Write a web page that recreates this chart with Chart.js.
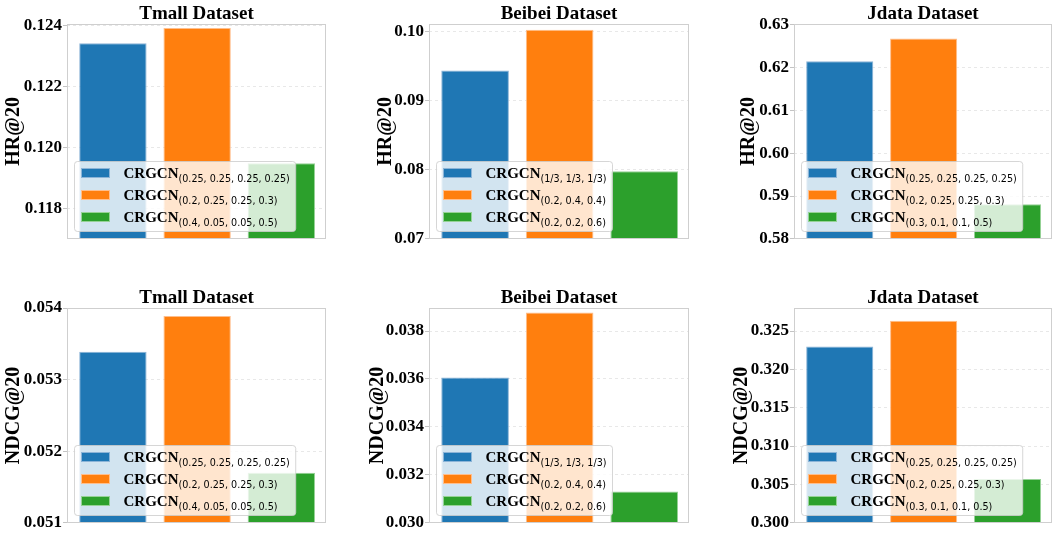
<!DOCTYPE html>
<html><head><meta charset="utf-8">
<script src="https://cdn.jsdelivr.net/npm/chart.js@4.4.0/dist/chart.umd.min.js"></script>
<style>
html,body{margin:0;padding:0;background:#fff;}
#wrap{position:relative;width:1058px;height:534px;overflow:hidden;background:#fff;}
canvas{position:absolute;}
</style></head><body><div id="wrap"></div>
<script>
// ---------- data ----------
const datasetNames = ['Tmall Dataset', 'Beibei Dataset', 'Jdata Dataset'];
const metricNames = ['HR@20', 'NDCG@20'];
const seriesColors = ['#1f77b4', '#ff7f0e', '#2ca02c'];
const seriesEdge = ['rgba(140,180,215,1)', 'rgba(255,190,140,1)', 'rgba(150,210,150,1)'];
const modelName = 'CRGCN';
const tmallWeights = ['(0.25, 0.25, 0.25, 0.25)', '(0.2, 0.25, 0.25, 0.3)', '(0.4, 0.05, 0.05, 0.5)'];
const beibeiWeights = ['(1/3, 1/3, 1/3)', '(0.2, 0.4, 0.4)', '(0.2, 0.2, 0.6)'];
const jdataWeights = ['(0.25, 0.25, 0.25, 0.25)', '(0.2, 0.25, 0.25, 0.3)', '(0.3, 0.1, 0.1, 0.5)'];

const tmallHR = [0.12341, 0.12391, 0.11948];
const beibeiHR = [0.09434, 0.10024, 0.07977];
const jdataHR = [0.6215, 0.6268, 0.5881];
const tmallNDCG = [0.05339, 0.05389, 0.0517];
const beibeiNDCG = [0.03606, 0.03877, 0.03131];
const jdataNDCG = [0.32298, 0.32633, 0.30571];

// y-axis ranges / tick steps / label decimals
const tmallHRAxis = [0.117, 0.12404, 0.002, 3];
const beibeiHRAxis = [0.07, 0.10106, 0.01, 2];
const jdataHRAxis = [0.58, 0.6302, 0.01, 2];
const tmallNDCGAxis = [0.051, 0.054, 0.001, 3];
const beibeiNDCGAxis = [0.030, 0.03896, 0.002, 3];
const jdataNDCGAxis = [0.300, 0.328, 0.005, 3];

// ---------- layout ----------
const colLeft = [0, 350, 700];
const colWidth = [350, 350, 358];
const plotLeft = [67, 429, 794];
const plotRight = [326, 689, 1052];
const rowTop = [0, 284];
const rowPadBottom = [8, 9];
const canvasH = 250;
const yTitlePad = [[2, 24, 37], [1.5, 16, 30]];

const panels = [
  [0, 0, tmallHR, tmallHRAxis, tmallWeights],
  [0, 1, beibeiHR, beibeiHRAxis, beibeiWeights],
  [0, 2, jdataHR, jdataHRAxis, jdataWeights],
  [1, 0, tmallNDCG, tmallNDCGAxis, tmallWeights],
  [1, 1, beibeiNDCG, beibeiNDCGAxis, beibeiWeights],
  [1, 2, jdataNDCG, jdataNDCGAxis, jdataWeights]
];

const serif = '"Liberation Serif", "Times New Roman", serif';

const frameAndLegend = {
  id: 'frameAndLegend',
  afterDatasetsDraw(chart, args, opts) {
    const ctx = chart.ctx, a = chart.chartArea;
    ctx.save();
    // frame
    ctx.strokeStyle = '#cfcfcf';
    ctx.lineWidth = 1;
    ctx.strokeRect(Math.round(a.left) + 0.5, Math.round(a.top) + 0.5,
      Math.round(a.right - a.left) - 1, Math.round(a.bottom - a.top) - 1);
    // legend
    const mainFont = 'bold 15px ' + serif;
    const subFont = '9.6px "DejaVu Sans", sans-serif';
    ctx.font = mainFont;
    const mainW = ctx.measureText(modelName).width;
    ctx.font = subFont;
    let subW = 0;
    opts.weights.forEach(w => { subW = Math.max(subW, ctx.measureText(w).width); });
    const bw = 7 + 29 + 13 + mainW + subW + 6;
    const bh = 70;
    const bx = Math.round(a.left) + 7.5, by = Math.round(a.bottom) - 7.5 - bh;
    ctx.beginPath();
    ctx.roundRect(bx, by, bw, bh, 3);
    ctx.fillStyle = 'rgba(255,255,255,0.8)';
    ctx.fill();
    ctx.strokeStyle = 'rgba(204,204,204,0.8)';
    ctx.stroke();
    opts.weights.forEach((w, i) => {
      const cy = Math.round(by + 11.5 + 22 * i);
      ctx.fillStyle = seriesEdge[i];
      ctx.fillRect(bx + 6.5, cy - 5, 29, 10);
      ctx.fillStyle = seriesColors[i];
      ctx.fillRect(bx + 7.5, cy - 4, 27, 8);
      ctx.fillStyle = '#000';
      ctx.textBaseline = 'alphabetic';
      ctx.textAlign = 'left';
      ctx.font = mainFont;
      const tx = bx + 7 + 29 + 13;
      ctx.fillText(modelName, tx, cy + 5);
      ctx.font = subFont;
      ctx.fillText(w, tx + mainW, cy + 8.5);
    });
    ctx.restore();
  }
};

const wrap = document.getElementById('wrap');
panels.forEach(p => {
  const [r, c, values, axis, weights] = p;
  const cv = document.createElement('canvas');
  cv.width = colWidth[c];
  cv.height = canvasH;
  cv.style.left = colLeft[c] + 'px';
  cv.style.top = rowTop[r] + 'px';
  cv.style.width = colWidth[c] + 'px';
  cv.style.height = canvasH + 'px';
  wrap.appendChild(cv);
  const axisW = plotLeft[c] - colLeft[c];
  const padR = colLeft[c] + colWidth[c] - plotRight[c];
  const [ymin, ymax, step, dec] = axis;
  new Chart(cv.getContext('2d'), {
    type: 'bar',
    data: {
      datasets: [{
        data: values.map((v, i) => ({ x: i, y: v })),
        backgroundColor: seriesColors,
        borderColor: seriesEdge,
        borderWidth: 1,
        borderSkipped: 'start',
        barPercentage: 0.8,
        categoryPercentage: 1,
        clip: 0
      }]
    },
    options: {
      responsive: false,
      animation: false,
      devicePixelRatio: 1,
      layout: { padding: { left: 0, right: padR, top: 0, bottom: rowPadBottom[r] } },
      plugins: {
        legend: { display: false },
        tooltip: { enabled: false },
        title: {
          display: true,
          text: datasetNames[c],
          fullSize: false,
          color: '#000',
          font: { family: serif, size: 19, weight: 'bold', lineHeight: 1 },
          padding: { top: 5, bottom: 0 }
        },
        frameAndLegend: { weights: weights }
      },
      scales: {
        x: {
          type: 'linear', display: false, min: -0.545, max: 2.53, offset: false,
          ticks: { stepSize: 1, includeBounds: false }
        },
        y: {
          type: 'linear',
          min: ymin, max: ymax,
          afterFit(s) { s.width = axisW; },
          ticks: {
            stepSize: step,
            includeBounds: false,
            autoSkip: false,
            callback: v => Number(v).toFixed(dec),
            color: '#000',
            padding: 1,
            font: { family: serif, size: 17, weight: 'bold' }
          },
          grid: {
            color: 'rgba(0,0,0,0.09)',
            tickColor: '#c4c4c4',
            tickLength: 4,
            tickBorderDash: []
          },
          border: { display: false, dash: [3, 3] },
          title: {
            display: true,
            text: metricNames[r],
            color: '#000',
            font: { family: serif, size: 20, weight: 'bold', lineHeight: 1.2 },
            padding: { top: yTitlePad[r][c], bottom: 0 }
          }
        }
      }
    },
    plugins: [frameAndLegend]
  });
});
</script>
</body></html>
